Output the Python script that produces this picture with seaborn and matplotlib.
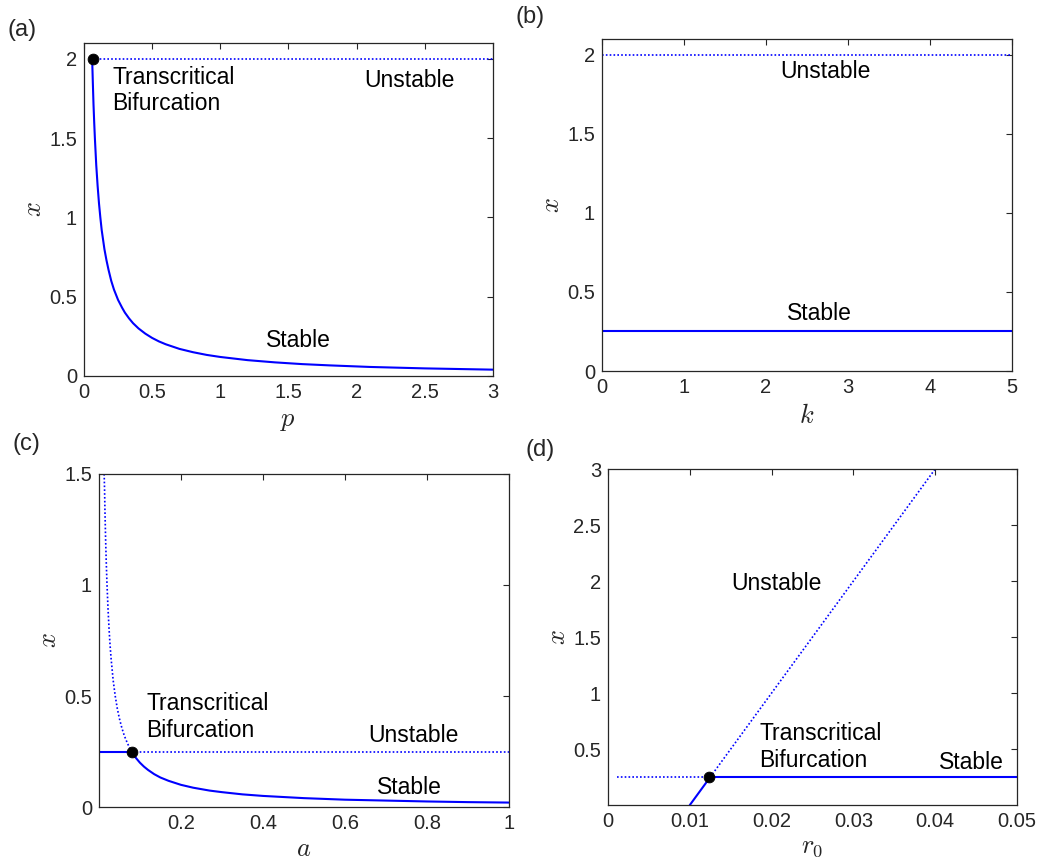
import numpy as np
import pandas as pd
import matplotlib
matplotlib.use('Agg')
import matplotlib.pyplot as plt
import seaborn as sns

# panel (a): x vs p
p_stable = [0.06, 0.065, 0.07, 0.075, 0.08, 0.09, 0.1, 0.11, 0.12, 0.13, 0.14, 0.15, 0.165,
            0.18, 0.2, 0.22, 0.25, 0.28, 0.3, 0.33, 0.36, 0.4, 0.45, 0.5, 0.55, 0.6, 0.7,
            0.8, 0.9, 1.0, 1.2, 1.4, 1.6, 1.8, 2.1, 2.5, 3.0]
x_p_stable = [2.0, 1.85, 1.71, 1.6, 1.5, 1.33, 1.2, 1.09, 1.0, 0.92, 0.86, 0.8, 0.73,
              0.67, 0.6, 0.545, 0.48, 0.43, 0.4, 0.364, 0.333, 0.3, 0.267, 0.24, 0.218, 0.2, 0.171,
              0.15, 0.133, 0.12, 0.1, 0.086, 0.075, 0.067, 0.057, 0.048, 0.04]
p_unstable = [0.06, 3.0]
x_p_unstable = [2.0, 2.0]
p_bif, x_p_bif = 0.068, 2.0

# panel (b): x vs k
k_range = [0.0, 5.0]
x_k_stable = [0.25, 0.25]
x_k_unstable = [2.0, 2.0]

# panel (c): x vs a
a_left = [0.0005, 0.08]
x_a_left = [0.25, 0.25]
a_right = [0.08, 1.0]
x_a_right = [0.25, 0.25]
a_curve_unst = [0.013, 0.014, 0.015, 0.0165, 0.018, 0.02, 0.0225, 0.025, 0.0275, 0.03,
                0.035, 0.04, 0.045, 0.05, 0.055, 0.06, 0.065, 0.07, 0.075, 0.08]
x_a_curve_unst = [1.5, 1.43, 1.33, 1.21, 1.11, 1.0, 0.89, 0.8, 0.727, 0.667,
                  0.57, 0.5, 0.444, 0.4, 0.364, 0.333, 0.308, 0.286, 0.267, 0.25]
a_curve_st = [0.08, 0.09, 0.1, 0.11, 0.12, 0.135, 0.15, 0.17, 0.2, 0.23, 0.27, 0.3, 0.35,
              0.4, 0.5, 0.6, 0.7, 0.8, 0.9, 1.0]
x_a_curve_st = [0.25, 0.222, 0.2, 0.182, 0.167, 0.148, 0.133, 0.118, 0.1, 0.087, 0.074,
                0.067, 0.057, 0.05, 0.04, 0.033, 0.029, 0.025, 0.022, 0.02]
a_bif, x_a_bif = 0.082, 0.25

# panel (d): x vs r0
r_flat_unst = [0.0011, 0.0125]
x_r_flat_unst = [0.25, 0.25]
r_flat_st = [0.0125, 0.05]
x_r_flat_st = [0.25, 0.25]
r_line_st = [0.01, 0.0125]
x_r_line_st = [0.0, 0.25]
r_line_unst = [0.0125, 0.04]
x_r_line_unst = [0.25, 3.0]
r_bif, x_r_bif = 0.0124, 0.25

sns.set_style('white')
plt.rcParams['font.family'] = ['Liberation Sans', 'DejaVu Sans']
plt.rcParams['mathtext.fontset'] = 'cm'

dark = '#262626'
dotted = (0, (1, 1.3))
lw = 1.5

fig = plt.figure(figsize=(10.38, 8.61), dpi=100)
ax_a = fig.add_axes([0.0809, 0.5633, 0.394, 0.3868])
ax_b = fig.add_axes([0.580, 0.5691, 0.395, 0.3856])
ax_c = fig.add_axes([0.0954, 0.0627, 0.395, 0.3868])
ax_d = fig.add_axes([0.5857, 0.0650, 0.394, 0.3902])


def seg(ax, xs, ys, ls='-'):
    sns.lineplot(x=xs, y=ys, ax=ax, color='blue', linewidth=lw if ls == '-' else 1.2,
                 linestyle=ls, sort=False, estimator=None)


def dot(ax, xv, yv):
    sns.scatterplot(x=[xv], y=[yv], ax=ax, color='black', s=60, edgecolor='black',
                    zorder=5, clip_on=False)


def style(ax, xlim, ylim, xticks, yticks, xlabel, xlab_y=-0.135):
    ax.set_xlim(*xlim)
    ax.set_ylim(*ylim)
    ax.set_xticks(xticks)
    ax.set_yticks(yticks)
    ax.set_xticklabels(['{:g}'.format(t) for t in xticks])
    ax.set_yticklabels(['{:g}'.format(t) for t in yticks])
    ax.tick_params(direction='in', top=True, right=True, length=4, width=0.8,
                   color=dark, labelcolor=dark, labelsize=14.5, pad=5)
    for s in ax.spines.values():
        s.set_color(dark)
        s.set_linewidth(0.9)
        s.set_visible(True)
    ax.set_xlabel(xlabel, fontsize=19, color=dark)
    ax.set_ylabel('$x$', fontsize=19, color=dark)
    ax.xaxis.set_label_coords(0.5, xlab_y)
    ax.xaxis.label.set_va('center')
    ax.yaxis.set_label_coords(-0.122, 0.5)
    ax.yaxis.label.set_va('center')


def note(ax, xv, yv, txt, ha='center'):
    ax.text(xv, yv, txt, fontsize=16.5, ha=ha, va='center', color='black')


# (a)
seg(ax_a, p_stable, x_p_stable)
seg(ax_a, p_unstable, x_p_unstable, dotted)
dot(ax_a, p_bif, x_p_bif)
style(ax_a, (0, 3), (0, 2.1), [0, 0.5, 1, 1.5, 2, 2.5, 3], [0, 0.5, 1, 1.5, 2], '$p$')
note(ax_a, 0.21, 1.80, 'Transcritical\nBifurcation', ha='left')
note(ax_a, 2.384, 1.865, 'Unstable')
note(ax_a, 1.575, 0.225, 'Stable')

# (b)
seg(ax_b, k_range, x_k_stable)
seg(ax_b, k_range, x_k_unstable, dotted)
style(ax_b, (0, 5), (0, 2.1), [0, 1, 2, 3, 4, 5], [0, 0.5, 1, 1.5, 2], '$k$')
note(ax_b, 2.72, 1.895, 'Unstable')
note(ax_b, 2.65, 0.364, 'Stable')

# (c)
seg(ax_c, a_left, x_a_left)
seg(ax_c, a_right, x_a_right, dotted)
seg(ax_c, a_curve_unst, x_a_curve_unst, dotted)
seg(ax_c, a_curve_st, x_a_curve_st)
dot(ax_c, a_bif, x_a_bif)
style(ax_c, (0.0005, 1), (0, 1.5), [0.2, 0.4, 0.6, 0.8, 1], [0, 0.5, 1, 1.5], '$a$',
      xlab_y=-0.125)
note(ax_c, 0.1156, 0.405, 'Transcritical\nBifurcation', ha='left')
note(ax_c, 0.767, 0.323, 'Unstable')
note(ax_c, 0.757, 0.087, 'Stable')

# (d)
seg(ax_d, r_flat_unst, x_r_flat_unst, dotted)
seg(ax_d, r_flat_st, x_r_flat_st)
seg(ax_d, r_line_st, x_r_line_st)
seg(ax_d, r_line_unst, x_r_line_unst, dotted)
dot(ax_d, r_bif, x_r_bif)
style(ax_d, (0, 0.05), (0.001, 3), [0, 0.01, 0.02, 0.03, 0.04, 0.05],
      [0.5, 1, 1.5, 2, 2.5, 3], '$r_0$', xlab_y=-0.125)
note(ax_d, 0.02064, 1.98, 'Unstable')
note(ax_d, 0.01853, 0.52, 'Transcritical\nBifurcation', ha='left')
note(ax_d, 0.0444, 0.381, 'Stable')

# panel letters
for lab, (px, py) in zip(['(a)', '(b)', '(c)', '(d)'],
                         [(22, 30), (530, 17), (26, 444), (540, 450)]):
    fig.text(px / 1038, 1 - py / 861, lab, fontsize=17, ha='center', va='center')

fig.savefig('out.png', dpi=100)
